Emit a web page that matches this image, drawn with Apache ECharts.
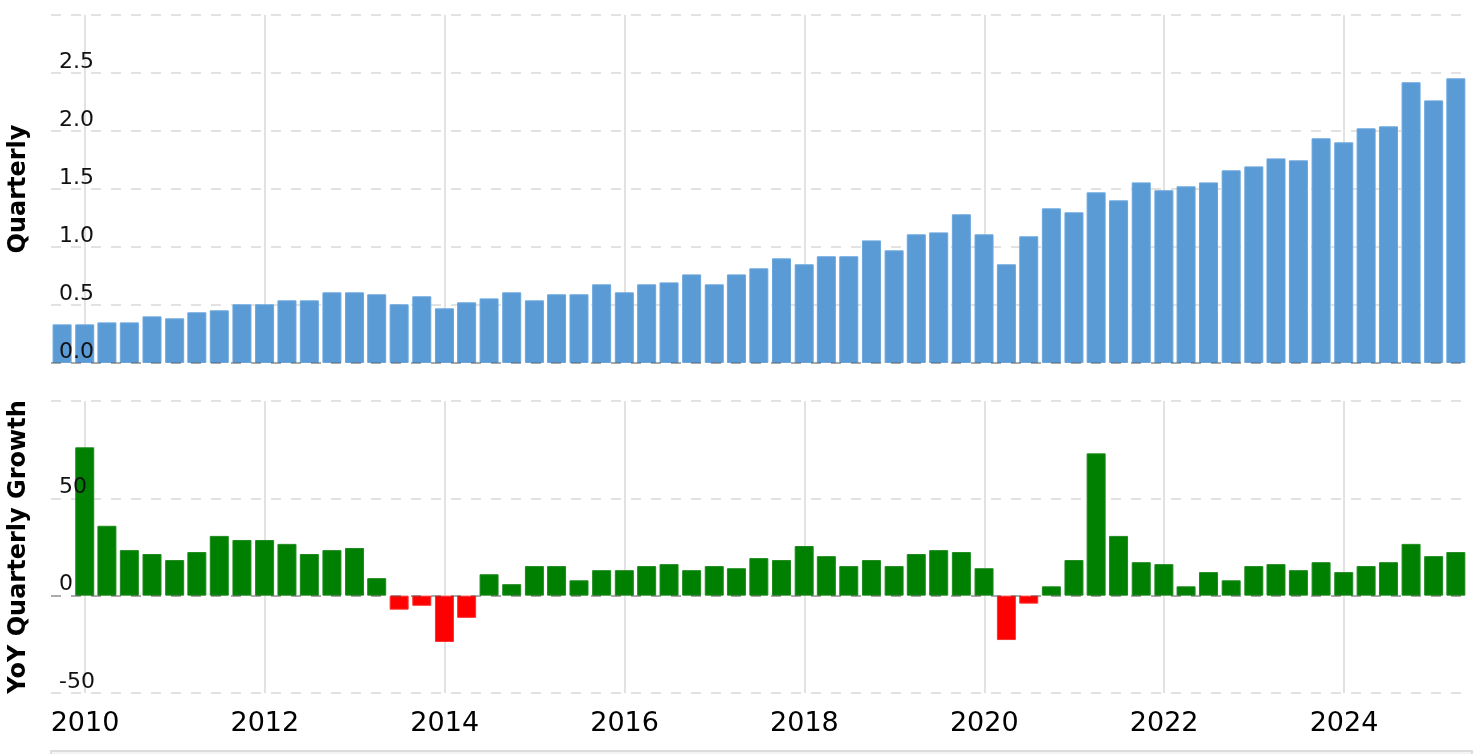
<!DOCTYPE html>
<html>
<head>
<meta charset="utf-8">
<script src="https://cdn.jsdelivr.net/npm/echarts@6/dist/echarts.min.js"></script>
<style>
  html, body { margin: 0; padding: 0; background: #fff; }
  #chart { width: 1484px; height: 754px; }
</style>
</head>
<body>
<div id="chart"></div>
<script>
  // quarter end dates, first one is 2009 Q3
  const firstYear = 2009;
  const firstQuarter = 3;
  const quarterEndDays = ['03-31', '06-30', '09-30', '12-31'];

  const quarterly = [
    0.333, 0.333, 0.35, 0.35, 0.402, 0.385, 0.437, 0.454, 0.506, 0.506,
    0.54, 0.54, 0.609, 0.609, 0.592, 0.506, 0.575, 0.471, 0.523, 0.557,
    0.609, 0.54, 0.592, 0.592, 0.678, 0.609, 0.678, 0.695, 0.764, 0.678,
    0.764, 0.816, 0.902, 0.851, 0.92, 0.92, 1.057, 0.971, 1.109, 1.126,
    1.282, 1.109, 0.851, 1.092, 1.333, 1.299, 1.471, 1.402, 1.557, 1.489,
    1.523, 1.557, 1.661, 1.695, 1.764, 1.747, 1.937, 1.902, 2.023, 2.04,
    2.42, 2.264, 2.454
  ];

  // YoY growth in %, starts one quarter later (2009 Q4)
  const yoyGrowth = [
    76.2, 35.9, 23.4, 21.4, 18.3, 22.4, 30.7, 28.6, 28.6, 26.6,
    21.4, 23.4, 24.5, 9.0, -7.2, -5.2, -23.8, -11.4, 11.0, 5.9,
    15.2, 15.2, 7.9, 13.1, 13.1, 15.2, 16.2, 13.1, 15.2, 14.1,
    19.3, 18.3, 25.5, 20.3, 15.2, 18.3, 15.2, 21.4, 23.4, 22.4,
    14.1, -22.8, -4.1, 4.8, 18.3, 73.1, 30.7, 17.2, 16.2, 4.8,
    12.1, 7.9, 15.2, 16.2, 13.1, 17.2, 12.1, 15.2, 17.2, 26.6,
    20.3, 22.4
  ];

  const dates = quarterly.map((v, i) => {
    const q = firstQuarter - 1 + i;
    return (firstYear + Math.floor(q / 4)) + '-' + quarterEndDays[q % 4];
  });

  // date -> fractional year, so the x axis can be a plain value axis
  function decYear(s) {
    const d = Date.parse(s + 'T00:00:00Z');
    const y = Number(s.slice(0, 4));
    const a = Date.UTC(y, 0, 1), b = Date.UTC(y + 1, 0, 1);
    return y + (d - a) / (b - a);
  }

  const font = 'DejaVu Sans, Verdana, sans-serif';
  const gridColor = '#e2e2e2';
  const xMin = 2009.622;
  const xMax = 2025.39;

  const zeroLine = {
    silent: true,
    symbol: 'none',
    label: { show: false },
    lineStyle: { color: 'rgba(40,40,40,0.3)', type: [10, 10], width: 2 },
    data: [{ yAxis: 0 }]
  };

  function xAxisFor(gridIndex, showLabels) {
    return {
      gridIndex: gridIndex,
      type: 'value',
      min: xMin,
      max: xMax,
      splitNumber: 8,
      minInterval: 2,
      maxInterval: 2,
      axisLine: { show: false },
      axisTick: { show: false },
      splitLine: {
        show: true,
        showMinLine: false,
        showMaxLine: false,
        lineStyle: { color: gridColor, width: 2 }
      },
      axisLabel: {
        show: showLabels,
        showMinLabel: false,
        showMaxLabel: false,
        margin: 17,
        fontSize: 27,
        fontFamily: font,
        color: '#000',
        formatter: v => String(v)
      }
    };
  }

  const chart = echarts.init(document.getElementById('chart'));
  chart.setOption({
    animation: false,
    backgroundColor: '#fff',
    grid: [
      { left: 51, right: 15, top: 15, height: 348, containLabel: false, outerBoundsMode: 'none' },
      { left: 51, right: 15, top: 401, height: 292, containLabel: false, outerBoundsMode: 'none' }
    ],
    xAxis: [xAxisFor(0, false), xAxisFor(1, true)],
    yAxis: [
      {
        gridIndex: 0, position: 'left', min: 0, max: 3, interval: 0.5,
        axisLine: { show: false }, axisTick: { show: false }, axisLabel: { show: false },
        splitLine: { lineStyle: { color: gridColor, type: [10, 10], width: 2 } }
      },
      {
        gridIndex: 0, position: 'left', min: 0, max: 3, interval: 0.5, z: 5,
        name: 'Quarterly', nameLocation: 'middle', nameGap: 20,
        nameTextStyle: { fontSize: 24, fontWeight: 'bold', color: '#000', fontFamily: font },
        axisLine: { show: false }, axisTick: { show: false }, splitLine: { show: false },
        axisLabel: {
          inside: true, margin: 8, verticalAlign: 'bottom', showMaxLabel: false,
          fontSize: 22, color: '#111', fontFamily: font,
          formatter: v => v.toFixed(1)
        }
      },
      {
        gridIndex: 1, position: 'left', min: -50, max: 100, interval: 50,
        axisLine: { show: false }, axisTick: { show: false }, axisLabel: { show: false },
        splitLine: { lineStyle: { color: gridColor, type: [10, 10], width: 2 } }
      },
      {
        gridIndex: 1, position: 'left', min: -50, max: 100, interval: 50, z: 5,
        name: 'YoY Quarterly Growth', nameLocation: 'middle', nameGap: 20,
        nameTextStyle: { fontSize: 24, fontWeight: 'bold', color: '#000', fontFamily: font },
        axisLine: { show: false }, axisTick: { show: false }, splitLine: { show: false },
        axisLabel: {
          inside: true, margin: 8, verticalAlign: 'bottom', showMaxLabel: false,
          fontSize: 22, color: '#111', fontFamily: font
        }
      }
    ],
    series: [
      {
        name: 'Quarterly',
        type: 'bar',
        xAxisIndex: 0,
        yAxisIndex: 0,
        barWidth: 19,
        itemStyle: { color: '#5b9bd5', borderColor: '#6aa6dc', borderWidth: 1 },
        markLine: zeroLine,
        data: quarterly.map((v, i) => [decYear(dates[i]), v])
      },
      {
        name: 'YoY Quarterly Growth',
        type: 'bar',
        xAxisIndex: 1,
        yAxisIndex: 2,
        barWidth: 19,
        markLine: zeroLine,
        data: yoyGrowth.map((v, i) => ({
          value: [decYear(dates[i + 1]), v],
          itemStyle: v < 0
            ? { color: '#ff0000', borderColor: '#ff3030', borderWidth: 1 }
            : { color: '#008000', borderColor: '#1f8a1f', borderWidth: 1 }
        }))
      }
    ],
    graphic: [
      {
        type: 'rect',
        left: 50,
        top: 750,
        shape: { width: 1421, height: 20 },
        style: { fill: '#f4f4f4', stroke: '#dcdcdc', lineWidth: 2 }
      }
    ]
  });
</script>
</body>
</html>
